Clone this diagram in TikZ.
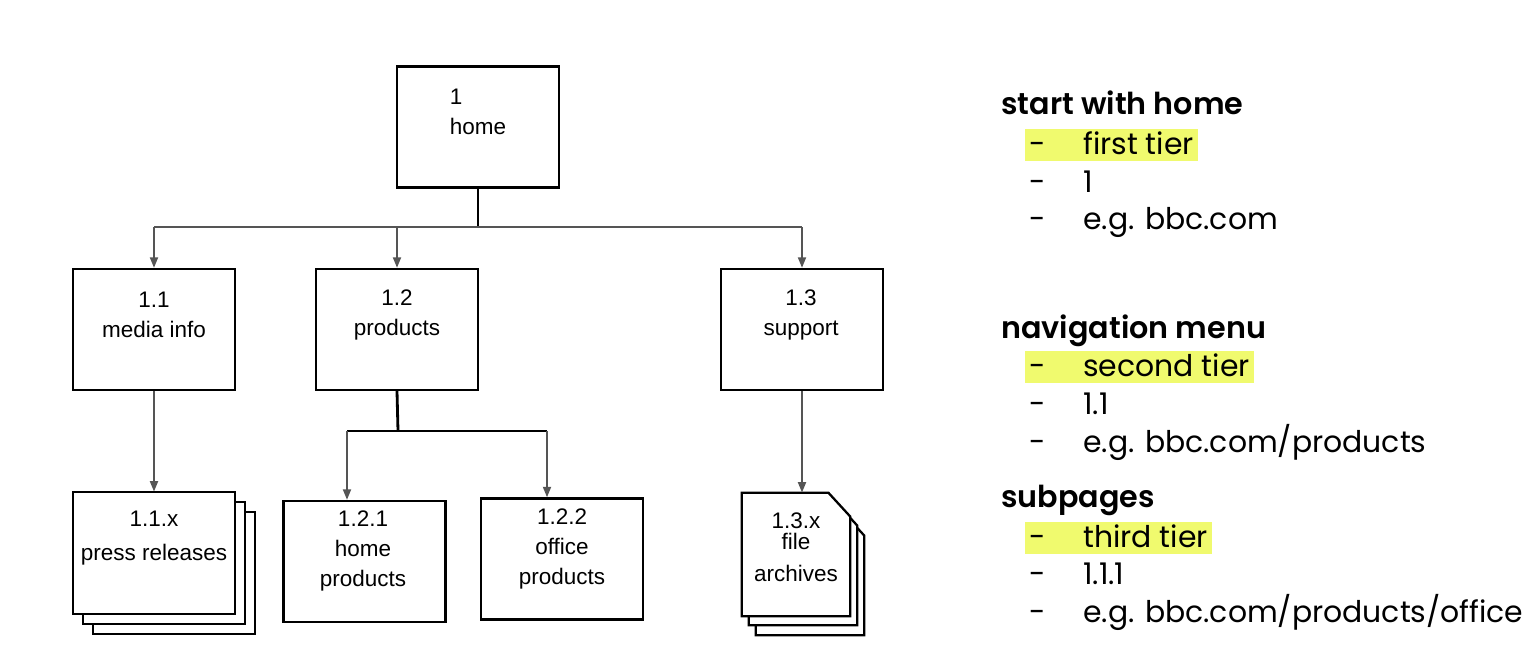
\documentclass[tikz,border=0pt]{standalone}
\usepackage{fontspec}
\setmainfont{Liberation Sans}
\newfontfamily\notefont{Poppins}[BoldFont={* SemiBold}]
\usetikzlibrary{arrows.meta,calc,positioning}
\definecolor{hl}{RGB}{240,250,110}
\definecolor{conn}{RGB}{85,85,85}
\newcommand\tieritem[1]{\makebox[1.07cm][l]{-}#1}
\tikzset{
  box/.style={rectangle,draw=black,line width=1.3pt,fill=white,
    minimum width=3.24cm,minimum height=2.42cm,inner sep=0pt},
  page/.style={draw=black,fill=white,line width=1.3pt,line join=miter},
  boxlab/.style={align=center,inner sep=0pt,
    font=\fontsize{12.8}{17}\selectfont},
  arr/.style={-{Triangle[length=6pt,width=4.5pt]},draw=conn,line width=1.2pt},
  stem/.style={draw=black,line width=1.6pt},
  bar/.style={draw=conn,line width=1.2pt},
  % notes on the right
  head/.style={anchor=base west,inner sep=0pt,
    font=\notefont\bfseries\fontsize{17.2}{18}\selectfont},
  item/.style={anchor=base west,inner xsep=2.5pt,inner ysep=0.04cm,
    text height=0.46cm,text depth=0.1cm,
    font=\notefont\fontsize{17}{18}\selectfont},
  hlitem/.style={item,fill=hl}
}
\begin{document}
\begin{tikzpicture}[x=0.02cm,y=-0.02cm]
  \useasboundingbox (0,0) rectangle (1540,652);

  % site map
  \node[box] (home) at (478,127) {};
  \node[boxlab,align=left] (homeL) at (478,112) {1\\home};

  \node[box] (media) at (154,329.5) {};
  \node[boxlab] (mediaL) at (154,315) {1.1\\media info};
  \node[box] (products) at (397,329.5) {};
  \node[boxlab] (productsL) at (397,315) {1.2\\products};
  \node[box] (support) at (802,329.5) {};
  \node[boxlab] (supportL) at (801,315) {1.3\\support};

  \coordinate (hub) at (478,227);
  \draw[stem] (home.south) -- (hub);
  \draw[bar] (media.north |- hub) -- (support.north |- hub);
  \foreach \n in {media,products,support}
    \draw[arr] (\n.north |- hub) -- (\n.north);

  % third tier
  \node[inner sep=0pt,minimum width=3.24cm,minimum height=2.44cm] (press) at (154,553) {};
  \foreach \d in {20,10,0}
    \draw[page] ($(press.south west)+(\d,\d)$) rectangle ($(press.north east)+(\d,\d)$);
  \node[boxlab] (pressL) at (154,538) {1.1.x\\[2pt]press releases};
  \draw[arr] (media.south) -- (press.north);

  \node[box] (homeprod) at (364.5,561.5) {};
  \node[boxlab] (homeprodL) at (363,551) {1.2.1\\home\\products};
  \node[box] (officeprod) at (562,559) {};
  \node[boxlab] (officeprodL) at (562,549) {1.2.2\\office\\products};

  \coordinate (sub) at (398,431);
  \coordinate (subL) at (347,431);
  \coordinate (subR) at (547,431);
  \draw[stem] (products.south) -- (sub);
  \draw[stem,line width=1.4pt] (subL) -- (subR);
  \draw[arr] (subL) -- (subL |- homeprod.north);
  \draw[arr] (subR) -- (subR |- officeprod.north);

  \node[inner sep=0pt,minimum width=2.16cm,minimum height=2.46cm] (files) at (796,554.5) {};
  \foreach \dx/\dy in {14/19,7/9,0/0}
    \draw[page] ($(files.north west)+(\dx,\dy)$) -- ($(files.north east)+(\dx-22,\dy)$)
      -- ($(files.north east)+(\dx,\dy+24)$) -- ($(files.south east)+(\dx,\dy)$)
      -- ($(files.south west)+(\dx,\dy)$) -- cycle;
  \node[boxlab] (filesL) at (796,547) {1.3.x\\[-5pt]file\\[1pt]archives};
  \draw[arr] (support.south) -- (support.south |- files.north);

  % notes
  \node[head] (n1) at (1001,114) {start with home};
  \node[hlitem] (n1a) at (1025,154) {\tieritem{first tier}};
  \node[item] (n1b) at (1025,192) {\tieritem{1}};
  \node[item] (n1c) at (1025,229) {\tieritem{e.g. bbc.com}};

  \node[head] (n2) at (1001,338) {navigation menu};
  \node[hlitem] (n2a) at (1025,376) {\tieritem{second tier}};
  \node[item] (n2b) at (1025,414) {\tieritem{1.1}};
  \node[item] (n2c) at (1025,452) {\tieritem{e.g. bbc.com/products}};

  \node[head] (n3) at (1001,507) {subpages};
  \node[hlitem] (n3a) at (1025,547) {\tieritem{third tier}};
  \node[item] (n3b) at (1025,584) {\tieritem{1.1.1}};
  \node[item] (n3c) at (1025,622) {\tieritem{e.g. bbc.com/products/office}};
\end{tikzpicture}
\end{document}
